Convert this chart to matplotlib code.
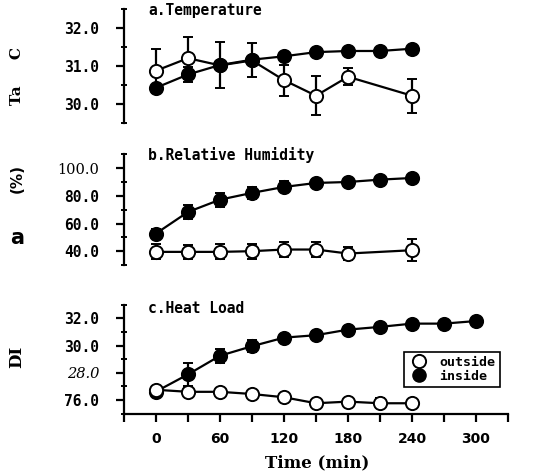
import numpy as np
import matplotlib.pyplot as plt
from matplotlib.lines import Line2D
from matplotlib.ticker import MultipleLocator, FixedLocator

# time points (min)
t_out_ab = [0, 30, 60, 90, 120, 150, 180, 240]
t_in_ab = [0, 30, 60, 90, 120, 150, 180, 210, 240]
t_out_c = [0, 30, 60, 90, 120, 150, 180, 210, 240]
t_in_c = [0, 30, 60, 90, 120, 150, 180, 210, 240, 270, 300]

# a. temperature
temp_out = [30.88, 31.21, 31.02, 31.15, 30.63, 30.22, 30.72, 30.22]
temp_out_err = [0.58, 0.56, 0.1, 0.1, 0.41, 0.52, 0.23, 0.45]
temp_in = [30.43, 30.78, 31.03, 31.17, 31.26, 31.37, 31.40, 31.40, 31.46]
temp_in_err = [0.08, 0.2, 0.6, 0.45, 0.1, 0.06, 0.06, 0.06, 0.06]

# b. relative humidity
rh_out = [39.5, 39.5, 39.5, 40.0, 41.2, 41.2, 38.3, 40.7]
rh_out_err = [5.5, 5.0, 5.5, 5.5, 5.5, 5.5, 4.5, 7.8]
rh_in = [52.8, 68.4, 77.3, 82.2, 86.5, 89.4, 90.1, 91.8, 93.0]
rh_in_err = [3.0, 5.0, 5.0, 4.5, 4.0, 3.0, 2.5, 2.5, 2.0]

# c. heat load (DI)
di_out = [26.75, 26.6, 26.6, 26.44, 26.2, 25.76, 25.88, 25.76, 25.76]
di_out_err = [0.25, 0.25, 0.3, 0.15, 0.15, 0.15, 0.15, 0.35, 0.15]
di_in = [26.62, 27.88, 29.25, 29.95, 30.58, 30.76, 31.17, 31.37, 31.61, 31.61, 31.80]
di_in_err = [0.1, 0.82, 0.5, 0.45, 0.3, 0.3, 0.25, 0.25, 0.25, 0.1, 0.1]

xtick_vals = [0, 60, 120, 180, 240, 300]

W, H = 536, 473
fig = plt.figure(figsize=(W / 100, H / 100), dpi=100)

def px_ax(top, bottom):
    return fig.add_axes([124 / W, 1 - bottom / H, 384 / W, (bottom - top) / H])

ax_a = px_ax(9.3, 123)
ax_b = px_ax(154.5, 265)
ax_c = px_ax(304.7, 413.6)

mono = dict(family='DejaVu Sans Mono', weight='bold')

def draw(ax, t, y, e, filled, z):
    ax.errorbar(t, y, yerr=e, fmt='-o', color='black', lw=1.6, ms=9.5,
                mfc='black' if filled else 'white', mec='black', mew=1.4,
                elinewidth=1.6, capsize=3.8, capthick=1.8, zorder=z)

def style(ax, ylim, major, minor, labels, xaxis=False):
    ax.set_xlim(-30, 330)
    ax.set_ylim(*ylim)
    ax.set_facecolor('none')
    for s in ['top', 'right']:
        ax.spines[s].set_visible(False)
    ax.spines['left'].set_linewidth(1.6)
    ax.yaxis.set_major_locator(FixedLocator(major))
    ax.yaxis.set_minor_locator(MultipleLocator(minor))
    ax.set_yticklabels(labels, fontsize=10.5, **mono)
    ax.tick_params(axis='y', which='major', direction='out', length=6, width=1.6, pad=12)
    ax.tick_params(axis='y', which='minor', direction='inout', length=5, width=1.4)
    if xaxis:
        ax.spines['bottom'].set_linewidth(1.6)
        ax.set_xticks(xtick_vals)
        ax.xaxis.set_minor_locator(MultipleLocator(30))
        ax.set_xticklabels([str(v) for v in xtick_vals], fontsize=10, weight='bold')
        ax.tick_params(axis='x', which='both', direction='out', length=6, width=1.6, pad=7)
    else:
        ax.spines['bottom'].set_visible(False)
        ax.set_xticks([])

# panel a
draw(ax_a, t_out_ab, temp_out, temp_out_err, False, 2)
draw(ax_a, t_in_ab, temp_in, temp_in_err, True, 3)
style(ax_a, (29.5, 32.5), [30, 31, 32], 0.5, ['30.0', '31.0', '32.0'])

# panel b
draw(ax_b, t_out_ab, rh_out, rh_out_err, False, 2)
draw(ax_b, t_in_ab, rh_in, rh_in_err, True, 3)
style(ax_b, (30, 110), [40, 60, 80, 100], 10, ['40.0', '60.0', '80.0', '100.0'])
ax_b.get_yticklabels()[3].set_family('DejaVu Serif')
ax_b.get_yticklabels()[3].set_weight('normal')

# panel c
draw(ax_c, t_in_c, di_in, di_in_err, True, 2)
draw(ax_c, t_out_c, di_out, di_out_err, False, 3)
style(ax_c, (25, 33), [26, 28, 30, 32], 1, ['76.0', '28.0', '30.0', '32.0'], xaxis=True)
lab28 = ax_c.get_yticklabels()[1]
lab28.set_family('DejaVu Serif')
lab28.set_style('italic')
lab28.set_weight('normal')

# panel titles
fig.text(148 / W, 1 - 10 / H, 'a.Temperature', fontsize=10.5, va='center', **mono)
fig.text(148 / W, 1 - 155 / H, 'b.Relative Humidity', fontsize=10.5, va='center', **mono)
fig.text(148 / W, 1 - 308 / H, 'c.Heat Load', fontsize=10.5, va='center', **mono)

# axis labels
fig.text(17 / W, 1 - 76 / H, 'Ta     C', rotation=90, fontsize=11, family='DejaVu Serif',
         weight='bold', ha='center', va='center')
fig.text(17 / W, 1 - 178 / H, '(%)', rotation=90, fontsize=11, weight='bold',
         ha='center', va='center')
fig.text(17 / W, 1 - 238 / H, 'a', fontsize=15, weight='bold', ha='center', va='center')
fig.text(17 / W, 1 - 357 / H, 'DI', rotation=90, fontsize=12, family='DejaVu Serif',
         weight='bold', ha='center', va='center')
fig.text(317 / W, 1 - 463 / H, 'Time (min)', fontsize=12, family='DejaVu Serif',
         weight='bold', ha='center', va='center')

# legend
handles = [Line2D([], [], ls='none', marker='o', ms=9.5, mfc='white', mec='black', mew=1.4),
           Line2D([], [], ls='none', marker='o', ms=9.5, mfc='black', mec='black')]
leg = fig.legend(handles, ['outside', 'inside'], loc='lower left',
                 bbox_to_anchor=(404 / W, 1 - 387 / H), borderaxespad=0,
                 fancybox=False, edgecolor='black', framealpha=1,
                 prop=dict(family='DejaVu Sans Mono', weight='bold', size=9.5),
                 handletextpad=0.8, labelspacing=0.1, borderpad=0.3, handlelength=1.6)
leg.get_frame().set_linewidth(1.2)

fig.savefig('out.png', dpi=100)
